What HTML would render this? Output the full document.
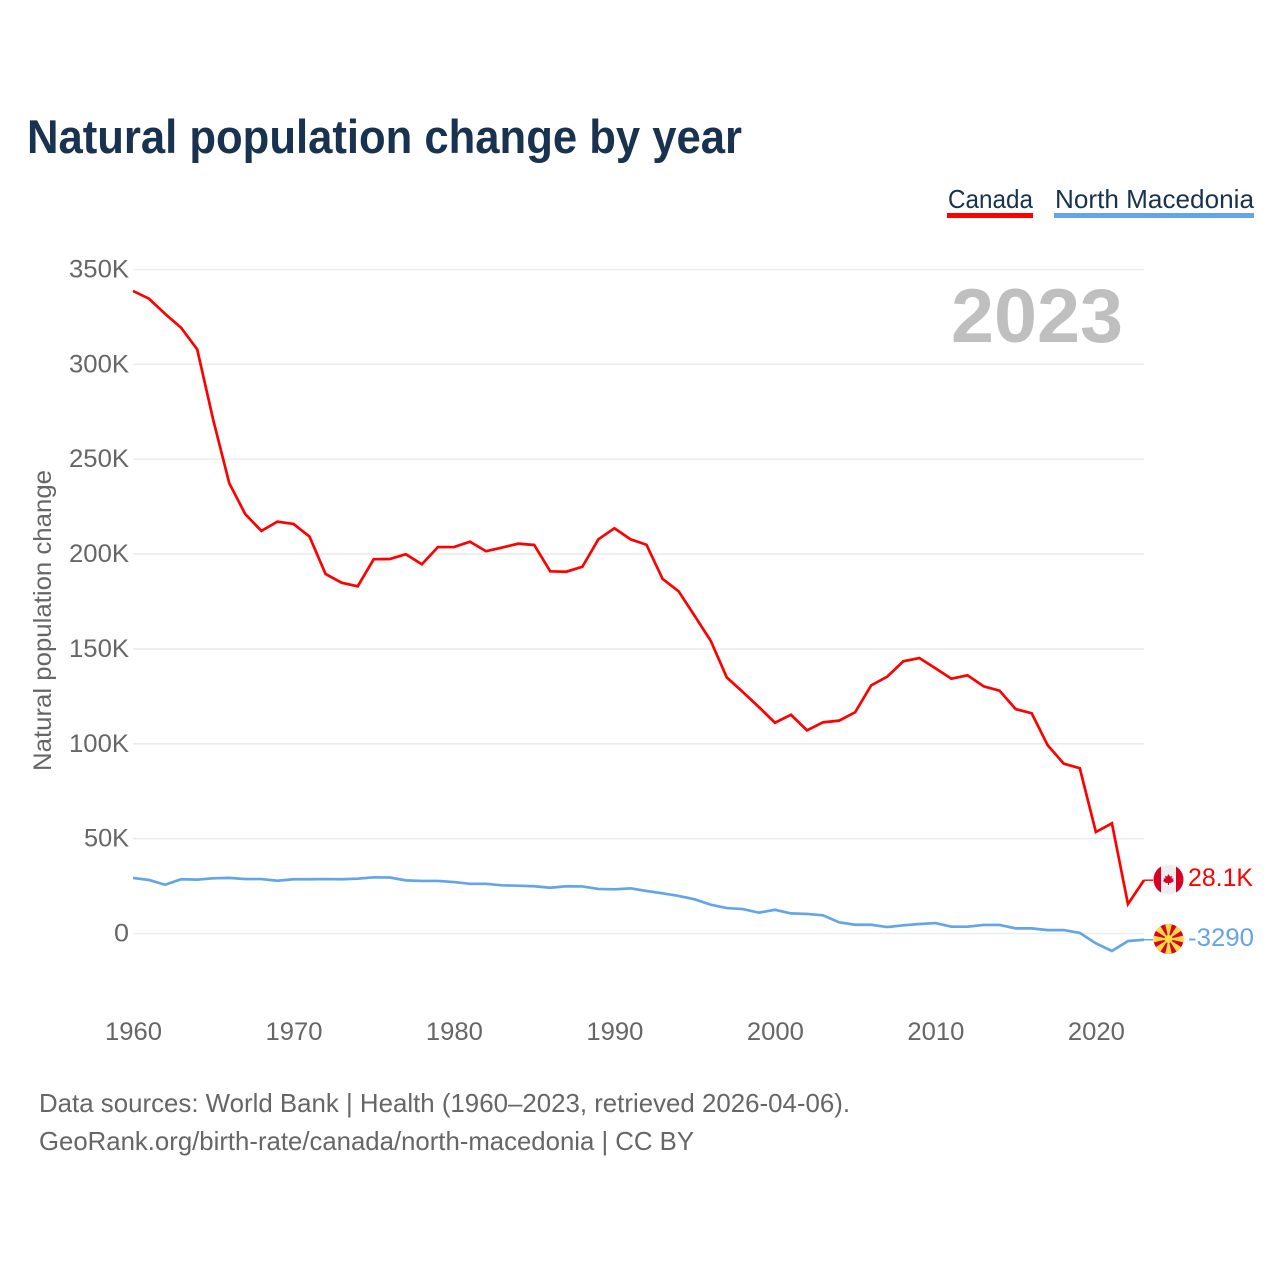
<!DOCTYPE html>
<html lang="en">
<head>
<meta charset="utf-8">
<title>Natural population change by year</title>
<style>
html,body{margin:0;padding:0;background:#fff;}
svg{display:block;}
text{font-family:"Liberation Sans",sans-serif;}
</style>
</head>
<body>
<svg id="chart" xmlns="http://www.w3.org/2000/svg" width="1280" height="1280" viewBox="0 0 1280 1280">
  <defs>
    <clipPath id="flag-clip-ca"><circle cx="1168.5" cy="879.5" r="15"/></clipPath>
    <clipPath id="flag-clip-mk"><circle cx="1168.5" cy="939" r="15"/></clipPath>
  </defs>
  <rect width="1280" height="1280" fill="#fff"/>
  <text x="27" y="153" font-size="47" font-weight="700" fill="#18324f" textLength="715" lengthAdjust="spacingAndGlyphs">Natural population change by year</text>

  <g>
    <text x="948" y="208" font-size="26" fill="#18324f" textLength="85" lengthAdjust="spacingAndGlyphs">Canada</text>
    <rect x="947" y="213" width="86" height="5" fill="#ff0000"/>
  </g>
  <g>
    <text x="1055" y="208" font-size="26" fill="#18324f" textLength="199" lengthAdjust="spacingAndGlyphs">North Macedonia</text>
    <rect x="1054" y="213" width="200" height="5" fill="#64a5ea"/>
  </g>

  <g id="grid"></g>
  <g id="yticks"></g>
  <g id="xticks"></g>
  <text transform="translate(51,771) rotate(-90)" font-size="25" fill="#666" textLength="301" lengthAdjust="spacingAndGlyphs">Natural population change</text>
  <text x="951" y="342" font-size="76" font-weight="700" fill="#bfbfbf" textLength="172" lengthAdjust="spacingAndGlyphs">2023</text>

  <g id="series"></g>

  <g clip-path="url(#flag-clip-ca)">
    <rect x="1153" y="864" width="31" height="31" fill="#eeeeee"/>
    <rect x="1153" y="864" width="8" height="31" fill="#d80027"/>
    <rect x="1176" y="864" width="8" height="31" fill="#d80027"/>
    <polygon fill="#d80027" points="1168.5,874 1170,876.6 1172,875.8 1171.5,878.6 1173.5,878.4 1173,880 1174,881 1170.5,883.2 1169,882.8 1169,885 1168,885 1168,882.8 1166.5,883.2 1163,881 1164,880 1163.5,878.4 1165.5,878.6 1165,875.8 1167,876.6"/>
  </g>
  <g clip-path="url(#flag-clip-mk)">
    <rect x="1152" y="922" width="33" height="34" fill="#d80027"/>
    <g fill="#ffda44">
      <polygon points="1168.5,939 1164.7,922 1172.3,922"/>
      <polygon points="1168.5,939 1164.7,922 1172.3,922" transform="rotate(45 1168.5 939)"/>
      <polygon points="1168.5,939 1164.7,922 1172.3,922" transform="rotate(90 1168.5 939)"/>
      <polygon points="1168.5,939 1164.7,922 1172.3,922" transform="rotate(135 1168.5 939)"/>
      <polygon points="1168.5,939 1164.7,922 1172.3,922" transform="rotate(180 1168.5 939)"/>
      <polygon points="1168.5,939 1164.7,922 1172.3,922" transform="rotate(225 1168.5 939)"/>
      <polygon points="1168.5,939 1164.7,922 1172.3,922" transform="rotate(270 1168.5 939)"/>
      <polygon points="1168.5,939 1164.7,922 1172.3,922" transform="rotate(315 1168.5 939)"/>
    </g>
    <circle cx="1168.5" cy="939" r="4" fill="#ffda44"/>
  </g>
  <text x="1188" y="886" font-size="25" fill="#ff0000" textLength="65" lengthAdjust="spacingAndGlyphs">28.1K</text>
  <text x="1188" y="946" font-size="25" fill="#64a5ea" textLength="66" lengthAdjust="spacingAndGlyphs">-3290</text>

  <text x="39" y="1112" font-size="26" fill="#666" textLength="811" lengthAdjust="spacingAndGlyphs">Data sources: World Bank | Health (1960–2023, retrieved 2026-04-06).</text>
  <text x="39" y="1150" font-size="26" fill="#666" textLength="655" lengthAdjust="spacingAndGlyphs">GeoRank.org/birth-rate/canada/north-macedonia | CC BY</text>
</svg>
<script>
var startYear = 1960;
var canadaValues = [338.7,334.6,326.6,319.3,307.9,270.7,237.3,221.0,212.2,217.1,215.9,209.2,189.5,184.9,183.0,197.3,197.4,199.9,194.6,203.7,203.7,206.5,201.5,203.4,205.5,204.8,190.9,190.7,193.3,207.8,213.6,207.8,204.9,186.9,180.4,167.4,154.3,135.0,127.3,119.4,111.1,115.3,107.1,111.3,112.2,116.6,130.8,135.4,143.5,145.2,139.8,134.3,136.1,130.3,128.0,118.3,116.1,99.2,89.5,87.1,53.5,58.1,15.5,28.1];
var macedoniaValues = [29.3,28.2,25.7,28.6,28.4,29.1,29.3,28.7,28.7,27.8,28.6,28.6,28.7,28.6,28.9,29.6,29.5,28.0,27.7,27.7,27.1,26.2,26.2,25.4,25.2,24.9,24.1,24.9,24.8,23.5,23.3,23.8,22.4,21.2,19.8,18.0,15.2,13.4,12.9,11.0,12.5,10.6,10.3,9.6,5.9,4.6,4.6,3.4,4.3,5.0,5.5,3.6,3.6,4.5,4.5,2.7,2.7,1.8,1.8,0.3,-5.2,-9.2,-4.0,-3.29];
var yTickValues = [0,50,100,150,200,250,300,350];
var yTickLabels = ["0","50K","100K","150K","200K","250K","300K","350K"];
var xTickValues = [1960,1970,1980,1990,2000,2010,2020];

var NS = 'http://www.w3.org/2000/svg';
function xScale(year){ return 133 + (year - 1960) * (1144 - 133) / 63; }
function yScale(v){ return 933.5 - v * (933.5 - 269.5) / 350; }
function make(tag, attrs, parent){
  var el = document.createElementNS(NS, tag);
  for (var k in attrs) el.setAttribute(k, attrs[k]);
  parent.appendChild(el);
  return el;
}

var grid = document.getElementById('grid');
var yticks = document.getElementById('yticks');
var xticks = document.getElementById('xticks');
var series = document.getElementById('series');

yTickValues.forEach(function(v, i){
  var line = make('line', {x1:133, x2:1144, y1:yScale(v), y2:yScale(v), stroke:'#ececec', 'stroke-width':1.6}, grid);
  
  
  var label = make('text', {x:129, y:yScale(v) + 8, 'text-anchor':'end', 'font-size':25, fill:'#666', textLength:yTickLabels[i].length * 15, lengthAdjust:'spacingAndGlyphs'}, yticks);
  label.textContent = yTickLabels[i];
  
  
});

xTickValues.forEach(function(year){
  var label = make('text', {x:xScale(year) + 0.5, y:1040, 'text-anchor':'middle', 'font-size':25, fill:'#666', textLength:57, lengthAdjust:'spacingAndGlyphs'}, xticks);
  label.textContent = String(year);
  
  
});

function linePath(values){
  return values.map(function(v, i){
    return (i ? 'L' : 'M') + xScale(startYear + i).toFixed(2) + ' ' + yScale(v).toFixed(2);
  }).join(' ');
}

var macedoniaLast = macedoniaValues[macedoniaValues.length - 1];
var canadaLast = canadaValues[canadaValues.length - 1];

var macedoniaLine = make('path', {d:linePath(macedoniaValues), fill:'none', stroke:'#64a5ea', 'stroke-width':2.7, 'stroke-linejoin':'miter'}, series);



var canadaLine = make('path', {d:linePath(canadaValues), fill:'none', stroke:'#ff0000', 'stroke-width':2.7, 'stroke-linejoin':'miter'}, series);



var canadaLeader = make('line', {x1:xScale(2023), x2:1153, y1:yScale(canadaLast), y2:yScale(canadaLast), stroke:'#ff0000', 'stroke-width':1.4}, series);



var macedoniaLeader = make('line', {x1:xScale(2023), x2:1153, y1:yScale(macedoniaLast), y2:yScale(macedoniaLast), stroke:'#64a5ea', 'stroke-width':1.4}, series);


</script>
</body>
</html>
